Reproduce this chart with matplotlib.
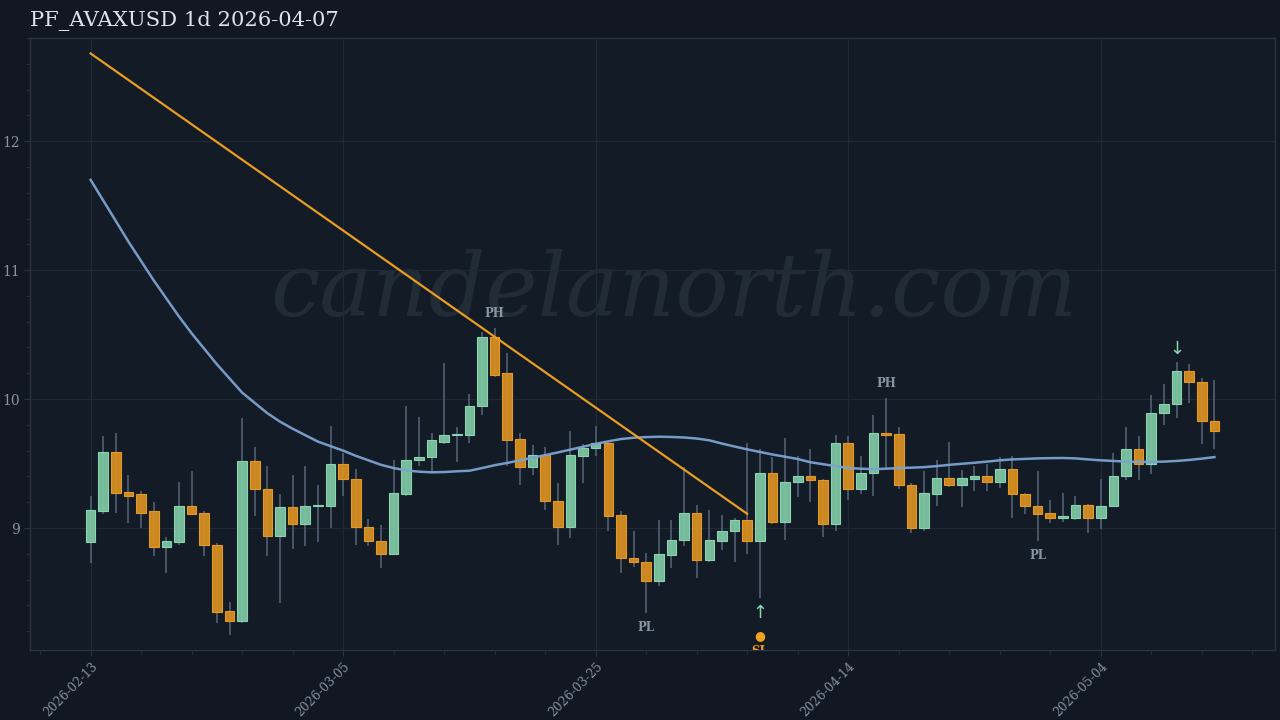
import matplotlib
matplotlib.use("Agg")
import matplotlib.pyplot as plt
from matplotlib.ticker import MultipleLocator, FuncFormatter
import pandas as pd
import numpy as np

# ---------------- data ----------------
dates = pd.date_range("2026-02-13", periods=90, freq="D")

opens = [8.89, 9.13, 9.59, 9.28, 9.26, 9.13, 8.85, 8.89, 9.17, 9.12,
         8.87, 8.36, 8.28, 9.52, 9.30, 8.94, 9.16, 9.03, 9.17, 9.17,
         9.50, 9.38, 9.01, 8.90, 8.80, 9.26, 9.53, 9.55, 9.67, 9.72,
         9.72, 9.95, 10.48, 10.20, 9.69, 9.47, 9.57, 9.21, 9.01, 9.56,
         9.62, 9.66, 9.10, 8.77, 8.74, 8.59, 8.79, 8.91, 9.12, 8.75,
         8.90, 8.98, 9.06, 8.90, 9.43, 9.05, 9.36, 9.40, 9.37, 9.03,
         9.66, 9.30, 9.43, 9.74, 9.73, 9.33, 9.00, 9.26, 9.39, 9.33,
         9.38, 9.40, 9.36, 9.46, 9.26, 9.17, 9.12, 9.08, 9.08, 9.18,
         9.08, 9.17, 9.40, 9.61, 9.50, 9.89, 9.96, 10.22, 10.13, 9.83]
highs = [9.25, 9.71, 9.74, 9.41, 9.29, 9.20, 8.93, 9.36, 9.44, 9.13,
         8.88, 8.43, 9.85, 9.63, 9.48, 9.26, 9.41, 9.48, 9.33, 9.79,
         9.58, 9.46, 9.07, 9.02, 9.53, 9.95, 9.86, 9.74, 10.28, 9.78,
         10.04, 10.52, 10.55, 10.36, 9.74, 9.64, 9.63, 9.35, 9.75, 9.65,
         9.79, 9.67, 9.13, 8.98, 8.81, 9.06, 9.06, 9.47, 9.18, 9.14,
         9.10, 9.08, 9.66, 9.61, 9.55, 9.70, 9.56, 9.61, 9.38, 9.72,
         9.71, 9.56, 9.88, 10.01, 9.78, 9.35, 9.44, 9.53, 9.67, 9.45,
         9.48, 9.50, 9.55, 9.56, 9.27, 9.44, 9.22, 9.27, 9.25, 9.19,
         9.38, 9.58, 9.78, 9.71, 10.03, 10.12, 10.29, 10.27, 10.16, 10.15]
lows = [8.73, 9.11, 9.12, 9.04, 9.00, 8.78, 8.65, 8.87, 9.10, 8.78,
        8.26, 8.17, 8.26, 9.09, 8.78, 8.42, 8.84, 8.86, 8.89, 9.00,
        9.25, 8.87, 8.86, 8.69, 8.80, 9.25, 9.48, 9.43, 9.65, 9.51,
        9.66, 9.88, 10.17, 9.48, 9.33, 9.41, 9.14, 8.87, 8.92, 9.35,
        9.56, 8.98, 8.65, 8.70, 8.34, 8.55, 8.69, 8.86, 8.61, 8.74,
        8.83, 8.74, 8.80, 8.46, 9.03, 8.91, 9.24, 9.20, 8.93, 8.98,
        9.22, 9.26, 9.25, 9.45, 9.30, 8.96, 8.98, 9.17, 9.32, 9.16,
        9.29, 9.29, 9.31, 9.08, 9.11, 8.90, 9.04, 9.05, 9.06, 8.96,
        8.99, 9.17, 9.37, 9.37, 9.42, 9.80, 9.85, 9.97, 9.65, 9.61]
closes = [9.14, 9.59, 9.27, 9.25, 9.12, 8.85, 8.90, 9.17, 9.11, 8.87,
          8.35, 8.28, 9.52, 9.30, 8.94, 9.16, 9.03, 9.17, 9.18, 9.50,
          9.38, 9.01, 8.90, 8.80, 9.27, 9.53, 9.55, 9.68, 9.72, 9.73,
          9.95, 10.48, 10.19, 9.68, 9.47, 9.57, 9.21, 9.01, 9.57, 9.62,
          9.66, 9.09, 8.77, 8.74, 8.59, 8.80, 8.91, 9.12, 8.75, 8.91,
          8.98, 9.06, 8.90, 9.43, 9.05, 9.36, 9.40, 9.37, 9.03, 9.66,
          9.30, 9.43, 9.74, 9.72, 9.33, 9.00, 9.27, 9.39, 9.33, 9.39,
          9.40, 9.36, 9.46, 9.26, 9.17, 9.11, 9.08, 9.09, 9.18, 9.08,
          9.17, 9.40, 9.61, 9.50, 9.89, 9.96, 10.22, 10.13, 9.83, 9.75]
ma_line = [11.70, 11.54, 11.38, 11.22, 11.07, 10.92, 10.78, 10.64, 10.51, 10.39,
           10.27, 10.16, 10.05, 9.97, 9.89, 9.825, 9.77, 9.72, 9.67, 9.635,
           9.60, 9.56, 9.525, 9.49, 9.465, 9.447, 9.437, 9.432, 9.434, 9.44,
           9.444, 9.465, 9.487, 9.505, 9.525, 9.545, 9.565, 9.586, 9.608, 9.63,
           9.653, 9.672, 9.69, 9.70, 9.705, 9.708, 9.706, 9.702, 9.694, 9.68,
           9.655, 9.632, 9.61, 9.59, 9.57, 9.553, 9.535, 9.51, 9.495, 9.48,
           9.465, 9.46, 9.457, 9.46, 9.465, 9.468, 9.472, 9.48, 9.49, 9.498,
           9.506, 9.515, 9.525, 9.532, 9.536, 9.54, 9.542, 9.543, 9.54, 9.532,
           9.525, 9.52, 9.515, 9.513, 9.513, 9.515, 9.52, 9.528, 9.538, 9.55]
trend_idx = [0, 52]
trend_val = [12.68, 9.11]
ph_idx = [32, 63]
pl_idx = [44, 75]
long_idx = [53]
short_idx = [86]
yticks = [9, 10, 11, 12]
title = "PF_AVAXUSD 1d 2026-04-07"
watermark = "candelanorth.com"

# ---------------- style ----------------
BG = "#111823"
AX_BG = "#131b26"
GRID = "#1e2a35"
SPINE = "#283442"
TICK = "#8593a3"
GREEN = "#7cc5a1"
GREEN_E = "#8fd9b5"
ORANGE = "#d68f22"
ORANGE_E = "#eb9d26"
WICK = "#56667a"
BLUE = "#7ba3d0"
TREND = "#e99d22"
SERIF = "DejaVu Serif"

fig = plt.figure(figsize=(12.8, 7.2), dpi=100, facecolor=BG)
ax = fig.add_axes([30 / 1280, 1 - 650 / 720, 1245 / 1280, 612 / 720])
ax.set_facecolor(AX_BG)

x = np.arange(len(opens))
o = np.array(opens); h = np.array(highs); l = np.array(lows); c = np.array(closes)
up = c >= o

# wicks
ax.vlines(x, l, h, color=WICK, linewidth=1.1, zorder=2)
# bodies
bw = 0.76
bottoms = np.minimum(o, c)
heights = np.maximum(np.abs(c - o), 0.012)
ax.bar(x[up], heights[up], bottom=bottoms[up], width=bw, color=GREEN,
       edgecolor=GREEN_E, linewidth=0.8, zorder=3, alpha=0.95)
ax.bar(x[~up], heights[~up], bottom=bottoms[~up], width=bw, color=ORANGE,
       edgecolor=ORANGE_E, linewidth=0.8, zorder=3, alpha=0.95)

# moving average and trend line
ax.plot(x, ma_line, color=BLUE, linewidth=1.8, zorder=4, alpha=0.95)
ax.plot(trend_idx, trend_val, color=TREND, linewidth=1.6, zorder=4)

# annotations
lab_kw = dict(textcoords="offset points", ha="center", va="center",
              fontsize=8.5, fontweight="bold", color="#8794a4", family=SERIF, zorder=6)
for i in ph_idx:
    ax.annotate("PH", (i, h[i]), xytext=(0, 10.5), **lab_kw)
for i in pl_idx:
    ax.annotate("PL", (i, l[i]), xytext=(0, -10.5), **lab_kw)
for i in long_idx:
    ax.annotate("↑", (i, l[i]), xytext=(0, -11), textcoords="offset points",
                ha="center", va="center", fontsize=13, color="#86dab2", zorder=6)
    ax.annotate("●", (i, l[i]), xytext=(0, -27.5), textcoords="offset points",
                ha="center", va="center", fontsize=9, color="#f0a222", zorder=6)
    t = ax.annotate("SL", (i, l[i]), xytext=(0, -38.5), textcoords="offset points",
                    ha="center", va="center", fontsize=8.5, fontweight="bold",
                    color="#e99d22", family=SERIF, zorder=6, annotation_clip=False)
    t.set_clip_on(True)
    t.set_clip_box(ax.bbox)
for i in short_idx:
    ax.annotate("↓", (i, h[i]), xytext=(0, 9.5), textcoords="offset points",
                ha="center", va="center", fontsize=13, color="#86dab2", zorder=6)

# watermark
ax.text(0.517, 0.585, watermark, transform=ax.transAxes, ha="center", va="center",
        fontsize=63.5, style="italic", family=SERIF, color="#222c37", zorder=1)

# axes
ax.set_xlim(-4.8, 93.8)
ax.set_ylim(8.054, 12.80)
ax.set_yticks(yticks)
ax.yaxis.set_minor_locator(MultipleLocator(0.2))
ax.xaxis.set_major_locator(MultipleLocator(20))
ax.xaxis.set_minor_locator(MultipleLocator(4))


def fmt_date(v, pos):
    d = pd.Timestamp("2026-02-13") + pd.Timedelta(days=int(round(v)))
    return d.strftime("%Y-%m-%d")


ax.xaxis.set_major_formatter(FuncFormatter(fmt_date))
ax.grid(True, which="major", color=GRID, linewidth=0.9, zorder=0)
for s in ax.spines.values():
    s.set_color(SPINE)
    s.set_linewidth(1.0)
ax.tick_params(axis="both", which="both", colors=SPINE, labelcolor=TICK)
ax.tick_params(axis="y", labelsize=10)
ax.tick_params(axis="x", labelsize=8.8, pad=3)
ax.tick_params(axis="both", which="major", length=4)
ax.tick_params(axis="both", which="minor", length=3)
for lab in ax.get_yticklabels():
    lab.set_family(SERIF)
for lab in ax.get_xticklabels():
    lab.set_family(SERIF)
    lab.set_rotation(45)
    lab.set_ha("right")
    lab.set_rotation_mode("anchor")

fig.text(30 / 1280, 1 - 21 / 720, title, ha="left", va="center", fontsize=15.2,
         family=SERIF, color="#dce3ea")

fig.savefig("out.png", dpi=100, facecolor=BG)
